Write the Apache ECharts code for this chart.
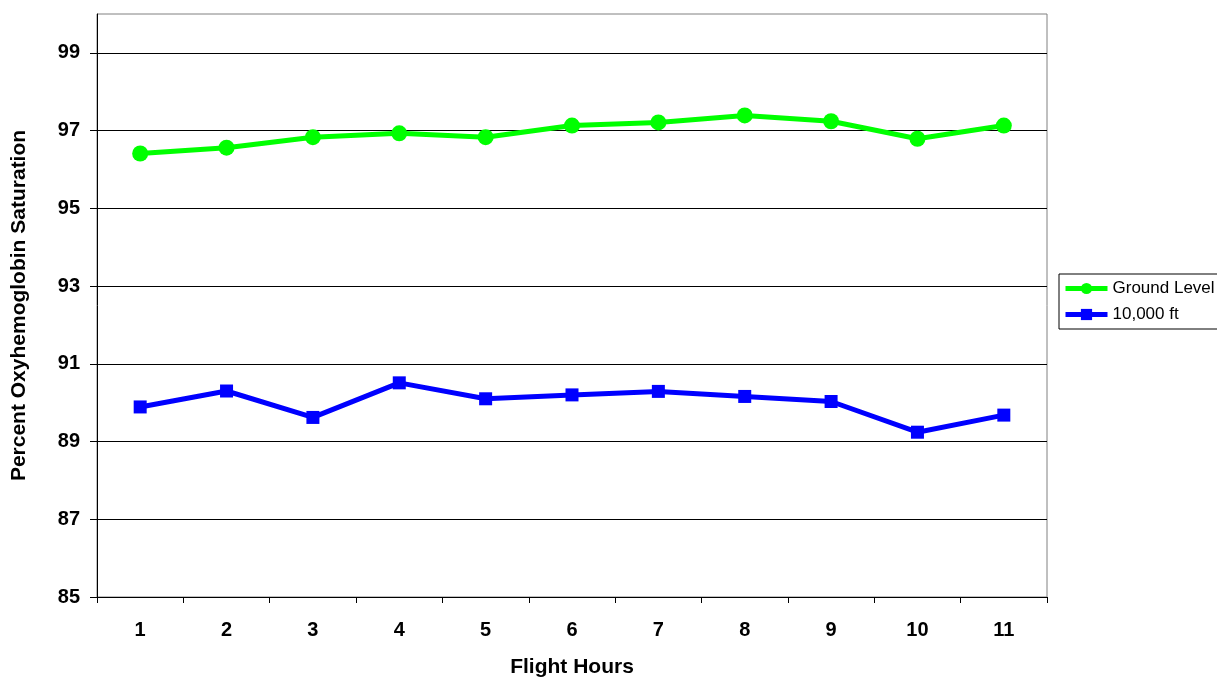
<!DOCTYPE html>
<html>
<head>
<meta charset="utf-8">
<script src="https://cdn.jsdelivr.net/npm/echarts@6/dist/echarts.min.js"></script>
<style>
html,body{margin:0;padding:0;background:#fff;}
#chart{width:1217px;height:677px;}
</style>
</head>
<body>
<div id="chart"></div>
<script>
var categories = ['1','2','3','4','5','6','7','8','9','10','11'];
var groundLevel = [96.41, 96.56, 96.83, 96.93, 96.83, 97.13, 97.21, 97.39, 97.24, 96.79, 97.13];
var tenThousandFt = [89.89, 90.30, 89.62, 90.51, 90.10, 90.20, 90.29, 90.16, 90.03, 89.24, 89.68];
var yTickValues = [85, 87, 89, 91, 93, 95, 97, 99];

var chart = echarts.init(document.getElementById('chart'), null, {renderer: 'canvas'});
var font = 'Liberation Sans, Arial, sans-serif';
chart.setOption({
  animation: false,
  backgroundColor: '#fff',
  grid: {left: 97, top: 14, right: 170, bottom: 80, containLabel: false, outerBoundsMode: 'none',
         show: true, borderColor: '#808080', borderWidth: 1, backgroundColor: 'transparent'},
  legend: {
    orient: 'vertical', left: 1059, top: 274,
    padding: [6, 6, 6, 4], itemGap: 9, itemWidth: 42, itemHeight: 14,
    borderColor: '#000', borderWidth: 1, borderRadius: 0,
    lineStyle: {width: 5},
    textStyle: {fontFamily: font, fontSize: 17, color: '#000'},
    data: ['Ground Level', '10,000 ft']
  },
  xAxis: {
    type: 'category', data: categories, boundaryGap: true,
    name: 'Flight Hours', nameLocation: 'middle', nameGap: 60,
    nameTextStyle: {fontFamily: font, fontSize: 21, fontWeight: 'bold', color: '#000'},
    axisLine: {lineStyle: {color: '#000', width: 1}},
    axisTick: {show: true, length: 6, alignWithLabel: false, lineStyle: {color: '#000'}},
    axisLabel: {fontFamily: font, fontSize: 20, fontWeight: 'bold', color: '#000', margin: 23},
    splitLine: {show: false}
  },
  yAxis: {
    type: 'value', min: 85, max: 100, interval: 2,
    name: 'Percent Oxyhemoglobin Saturation', nameLocation: 'middle', nameGap: 67,
    nameTextStyle: {fontFamily: font, fontSize: 21, fontWeight: 'bold', color: '#000'},
    axisLine: {show: true, lineStyle: {color: '#000', width: 1}},
    axisTick: {show: true, length: 7, customValues: yTickValues, lineStyle: {color: '#000'}},
    axisLabel: {fontFamily: font, fontSize: 20, fontWeight: 'bold', color: '#000', margin: 17, showMaxLabel: false},
    splitLine: {show: true, lineStyle: {color: '#000', width: 1}}
  },
  series: [
    {
      name: 'Ground Level', type: 'line', data: groundLevel,
      symbol: 'circle', symbolSize: 16,
      lineStyle: {color: '#00ff00', width: 5},
      itemStyle: {color: '#00ff00'}
    },
    {
      name: '10,000 ft', type: 'line', data: tenThousandFt,
      symbol: 'rect', symbolSize: 13,
      lineStyle: {color: '#0000ff', width: 5},
      itemStyle: {color: '#0000ff'}
    }
  ]
});
</script>
</body>
</html>
